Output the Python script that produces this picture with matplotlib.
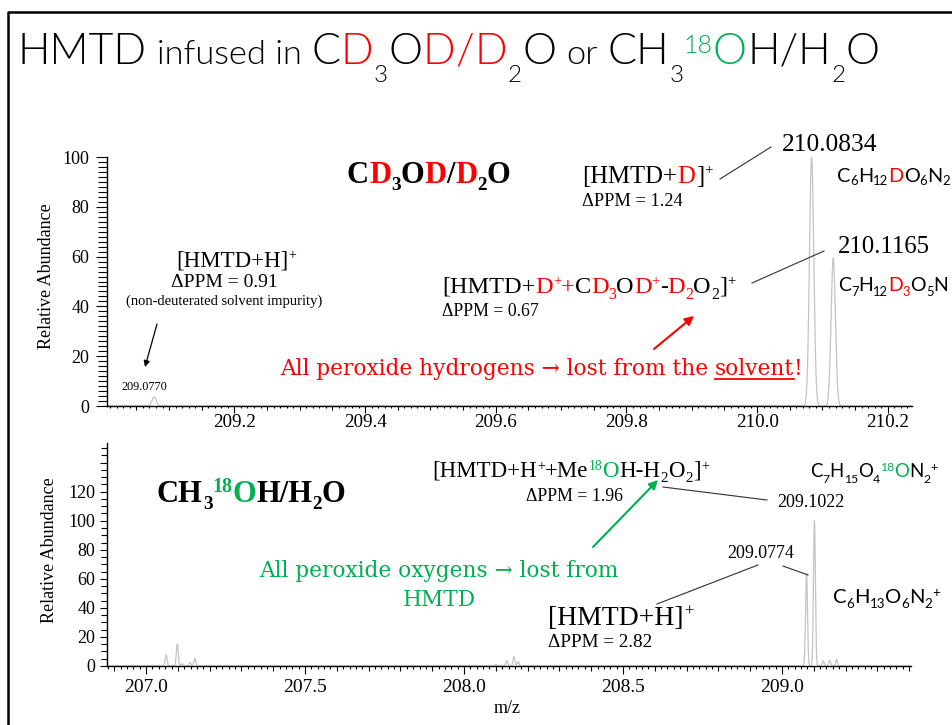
import matplotlib
matplotlib.use("Agg")
import matplotlib.pyplot as plt
import numpy as np
from matplotlib.lines import Line2D
from matplotlib.patches import FancyArrowPatch
from matplotlib.transforms import IdentityTransform
from matplotlib.ticker import MultipleLocator, FuncFormatter

W, H, DPI = 952, 725, 100
K = "black"
RED = "#ff0000"
GREEN = "#00b050"
TRACE = "#c4c4c4"
SERIF = ["Liberation Serif", "DejaVu Serif"]
SANS = ["Lato", "DejaVu Sans"]
SLAB = ["DejaVu Serif"]

plt.rcParams["font.family"] = SERIF

# ---- CD3OD / D2O run: peak m/z and relative abundance
d2o_mz = [209.0770, 210.0834, 210.1165]
d2o_int = [3.6, 100.0, 59.5]

# ---- CH3-18OH / H2O run
o18_mz = [207.063, 207.098, 207.113, 207.138, 207.153,
          208.100, 208.134, 208.157, 208.170,
          209.0774, 209.1022, 209.130, 209.150, 209.172]
o18_int = [7.6, 15.2, 1.5, 2.3, 5.3,
           1.0, 3.7, 6.4, 3.0,
           64.0, 100.0, 3.6, 4.0, 4.6]

d2o_xlim = (209.005, 210.237)
o18_xlim = (206.877, 209.406)

fig = plt.figure(figsize=(W / DPI, H / DPI), dpi=DPI)
renderer = fig.canvas.get_renderer()


def pt_px(pt):
    return pt * DPI / 72.0


def text_px(x, y, s, size, family=SERIF, color=K, weight="normal", ha="left", **kw):
    # x, y in pixels measured from the top-left corner, y is the baseline
    return fig.text(x, H - y, s, fontsize=size, family=family, color=color,
                    weight=weight, ha=ha, va="baseline",
                    transform=IdentityTransform(), **kw)


def space_px(size, family, weight):
    a = text_px(0, 0, "a a", size, family, weight=weight)
    b = text_px(0, 0, "aa", size, family, weight=weight)
    w = a.get_window_extent(renderer).width - b.get_window_extent(renderer).width
    a.remove()
    b.remove()
    return w


def rich(x, y, runs, size, family=SERIF, weight="normal",
         sub=(0.65, 0.22), sup=(0.6, 0.35), track=0.015):
    """Draw (text, color, kind[, scale]) runs side by side on one baseline."""
    boxes = []
    for run in runs:
        s, color, kind = run[:3]
        fs = size * (run[3] if len(run) > 3 else 1.0)
        dy = 0.0
        if kind == "sub":
            fs = size * sub[0]
            dy = -sub[1] * pt_px(size)
        elif kind == "sup":
            fs = size * sup[0]
            dy = sup[1] * pt_px(size)
        core = s.strip(" ")
        lead = len(s) - len(s.lstrip(" "))
        trail = len(s) - len(s.rstrip(" "))
        sp = space_px(fs, family, weight) if (lead or trail) else 0.0
        x += lead * sp
        t = text_px(x, y - dy, core, fs, family, color=color, weight=weight)
        bb = t.get_window_extent(renderer)
        boxes.append(bb)
        x = bb.x1 + trail * sp + track * pt_px(fs)
    return boxes


def seg(x0, y0, x1, y1, color="#303030", lw=0.8):
    fig.add_artist(Line2D([x0, x1], [H - y0, H - y1], color=color, lw=lw,
                          transform=IdentityTransform()))


def arrow(x0, y0, x1, y1, color, lw=1.5, head=12):
    fig.add_artist(FancyArrowPatch((x0, H - y0), (x1, H - y1),
                                   transform=IdentityTransform(),
                                   arrowstyle="-|>", mutation_scale=head,
                                   color=color, lw=lw, shrinkA=0, shrinkB=0))


def profile(mz, inten, xlim, sigma):
    x = np.linspace(xlim[0], xlim[1], 8000)
    y = np.zeros_like(x)
    for m, h in zip(mz, inten):
        y += h * np.exp(-0.5 * ((x - m) / sigma) ** 2)
    return x, y


def on_step(v, step):
    return abs(v / step - round(v / step)) < 1e-6


def setup_axis(ax, xlim, ylim, xmaj, xmin, xlab_step, ymaj, ymin, ymax_label,
               xlen, ylen, xpad, ypad, xsize, ysize):
    ax.set_xlim(*xlim)
    ax.set_ylim(*ylim)
    ax.patch.set_alpha(0)
    for side in ("top", "right"):
        ax.spines[side].set_visible(False)
    for side in ("left", "bottom"):
        ax.spines[side].set_linewidth(1.0)
    ax.xaxis.set_major_locator(MultipleLocator(xmaj))
    ax.xaxis.set_minor_locator(MultipleLocator(xmin))
    ax.xaxis.set_major_formatter(FuncFormatter(
        lambda v, p: f"{v:.1f}" if on_step(v, xlab_step) else ""))
    ax.yaxis.set_major_locator(MultipleLocator(ymaj))
    ax.yaxis.set_minor_locator(MultipleLocator(ymin))
    ax.yaxis.set_major_formatter(FuncFormatter(
        lambda v, p: f"{v:.0f}" if v <= ymax_label + 1e-6 else ""))
    ax.tick_params(axis="x", which="major", direction="out", length=xlen[1] * 0.72,
                   width=0.8, pad=xpad, labelsize=xsize)
    ax.tick_params(axis="x", which="minor", direction="out", length=xlen[2] * 0.72,
                   width=0.8)
    ax.tick_params(axis="y", which="major", direction="out", length=ylen[0] * 0.72,
                   width=0.8, pad=ypad, labelsize=ysize)
    ax.tick_params(axis="y", which="minor", direction="out", length=ylen[1] * 0.72,
                   width=0.8)
    # labelled x ticks are drawn longer than the unlabelled major ones
    locs = ax.xaxis.get_majorticklocs()
    for loc, tick in zip(locs, ax.xaxis.get_major_ticks(len(locs))):
        if on_step(loc, xlab_step):
            tick.tick1line.set_markersize(xlen[0] * 0.72)


# ---------------- slide frame and title
fig.add_artist(Line2D([8, 8, W + 5], [-5, H - 12, H - 12], color=K, lw=1.8,
                      transform=IdentityTransform()))

rich(18, 64, [("HMTD", K, ""), (" infused in ", K, "", 0.8),
              ("C", K, ""), ("D", RED, ""), ("3", K, "sub"), ("O", K, ""),
              ("D", RED, ""), ("/", RED, ""), ("D", RED, ""), ("2", K, "sub"),
              ("O", K, ""), (" or ", K, "", 0.8),
              ("CH", K, ""), ("3", K, "sub"), ("18", GREEN, "sup"),
              ("O", GREEN, ""), ("H/H", K, ""), ("2", K, "sub"), ("O", K, "")],
     31, family=SANS, weight=300, sub=(0.56, 0.42), sup=(0.58, 0.25), track=0.01)

# ---------------- top spectrum: CD3OD / D2O
ax1 = fig.add_axes([107 / W, 1 - 406 / H, (912 - 107) / W, (406 - 157) / H])
x1, y1 = profile(d2o_mz, d2o_int, d2o_xlim, 0.0033)
ax1.plot(x1, y1, color=TRACE, lw=0.9)
setup_axis(ax1, d2o_xlim, (0, 100), 0.05, 0.01, 0.2, 20, 2, 100,
           xlen=(7, 4, 2), ylen=(11, 9), xpad=3, ypad=5, xsize=13.8, ysize=13)

fig.text(47, H - 276, "Relative Abundance", fontsize=13, rotation=90,
         ha="center", va="center", transform=IdentityTransform())

rich(347, 183, [("C", K, ""), ("D", RED, ""), ("3", K, "sub"), ("O", K, ""),
                ("D", RED, ""), ("/", K, ""), ("D", RED, ""), ("2", K, "sub"),
                ("O", K, "")], 22, weight="bold", sub=(0.63, 0.22), track=0.0)

rich(582, 183, [("[HMTD+", K, ""), ("D", RED, ""), ("]", K, ""), ("+", K, "sup")], 17.8)
text_px(582, 206, "ΔPPM = 1.24", 13.2)
text_px(782, 151, f"{d2o_mz[1]:.4f}", 18.4)
seg(720, 179, 771, 147)
rich(837, 182, [("C", K, ""), ("6", K, "sub"), ("H", K, ""), ("12", K, "sub"),
                ("D", RED, ""), ("O", K, ""), ("6", K, "sub"), ("N", K, ""),
                ("2", K, "sub")], 14.3, family=SANS,
     sub=(0.66, 0.14), sup=(0.66, 0.3), track=0.0)

text_px(838, 253, f"{d2o_mz[2]:.4f}", 17.8)
rich(838, 291, [("C", K, ""), ("7", K, "sub"), ("H", K, ""), ("12", K, "sub"),
                ("D", RED, ""), ("3", RED, "sub"), ("O", K, ""), ("5", K, "sub"),
                ("N", K, "")], 14, family=SANS,
     sub=(0.66, 0.24), sup=(0.66, 0.3), track=0.0)
seg(752, 283, 824, 251)

rich(442, 293, [("[HMTD+", K, ""), ("D", RED, ""), ("+", RED, "sup"), ("+", RED, ""),
                ("C", K, ""), ("D", RED, ""), ("3", RED, "sub"), ("O", K, ""),
                ("D", RED, ""), ("+", RED, "sup"), ("-", K, ""), ("D", RED, ""),
                ("2", RED, "sub"), ("O", K, ""), ("2", K, "sub"), ("]", K, ""),
                ("+", K, "sup")], 17.5, sub=(0.65, 0.24), sup=(0.6, 0.33), track=0.0)
text_px(442, 316, "ΔPPM = 0.67", 12.8)
arrow(654, 349, 694, 316, RED, lw=1.5, head=13)

red_runs = rich(280, 375, [("All peroxide hydrogens → lost from the ", RED, ""),
                           ("solvent", RED, ""), ("!", RED, "")],
                15.6, family=SLAB, track=0.0)
ul = red_runs[1]
fig.add_artist(Line2D([ul.x0, ul.x1], [H - 379, H - 379], color=RED, lw=1.3,
                      transform=IdentityTransform()))

rich(176, 267, [("[HMTD+H]", K, ""), ("+", K, "sup")], 16.5)
text_px(224, 287, "ΔPPM = 0.91", 14, ha="center")
text_px(224, 305, "(non-deuterated solvent impurity)", 10.5, ha="center")
arrow(157, 324, 145, 367, K, lw=0.9, head=9)
text_px(121, 390, f"{d2o_mz[0]:.4f}", 8.8)

# ---------------- bottom spectrum: CH3-18OH / H2O
ax2 = fig.add_axes([107 / W, 1 - 666 / H, (911 - 107) / W, (666 - 443) / H])
x2, y2 = profile(o18_mz, o18_int, o18_xlim, 0.003)
ax2.plot(x2, y2, color=TRACE, lw=0.9)
setup_axis(ax2, o18_xlim, (0, 153.5), 0.1, 0.02, 0.5, 20, 5, 120,
           xlen=(8, 5, 3), ylen=(7, 6), xpad=5.5, ypad=3.5, xsize=14, ysize=13)

fig.text(50, H - 550, "Relative Abundance", fontsize=13, rotation=90,
         ha="center", va="center", transform=IdentityTransform())
text_px(507, 713, "m/z", 13, ha="center")

rich(157, 502, [("CH", K, ""), ("3", K, "sub"), ("18", GREEN, "sup"), ("O", GREEN, ""),
                ("H/H", K, ""), ("2", K, "sub"), ("O", K, "")], 22, weight="bold",
     sub=(0.63, 0.22), sup=(0.66, 0.33), track=0.0)

rich(432, 477, [("[HMTD+H", K, ""), ("+", K, "sup"), ("+Me", K, ""), ("18", GREEN, "sup"),
                ("O", GREEN, ""), ("H-H", K, ""), ("2", K, "sub"), ("O", K, ""),
                ("2", K, "sub"), ("]", K, ""), ("+", K, "sup")], 16.5,
     sub=(0.65, 0.22), sup=(0.6, 0.3))
text_px(526, 501, "ΔPPM = 1.96", 12.8)
seg(663, 487, 767, 500)
text_px(777, 507, f"{o18_mz[10]:.4f}", 13)
rich(810, 477, [("C", K, ""), ("7", K, "sub"), ("H", K, ""), ("15", K, "sub"),
                ("O", K, ""), ("4", K, "sub"), ("18", GREEN, "sup"), ("O", GREEN, ""),
                ("N", K, ""), ("2", K, "sub"), ("+", K, "sup")], 13.4, family=SANS,
     sub=(0.66, 0.3), sup=(0.66, 0.3), track=0.0)

text_px(727, 558, f"{o18_mz[9]:.4f}", 13)
seg(657, 604, 758, 565)
seg(783, 566, 808, 575)
rich(548, 625, [("[HMTD+H]", K, ""), ("+", K, "sup")], 20)
text_px(548, 647, "ΔPPM = 2.82", 13.8)
rich(833, 603, [("C", K, ""), ("6", K, "sub"), ("H", K, ""), ("13", K, "sub"),
                ("O", K, ""), ("6", K, "sub"), ("N", K, ""), ("2", K, "sub"),
                ("+", K, "sup")], 14.6, family=SANS,
     sub=(0.66, 0.25), sup=(0.66, 0.3), track=0.0)

text_px(439, 577, "All peroxide oxygens → lost from", 15.6, family=SLAB,
        color=GREEN, ha="center")
text_px(439, 606, "HMTD", 15.6, family=SLAB, color=GREEN, ha="center")
arrow(593, 547, 658, 480, GREEN, lw=1.5, head=13)

fig.savefig("out.png", dpi=DPI)
